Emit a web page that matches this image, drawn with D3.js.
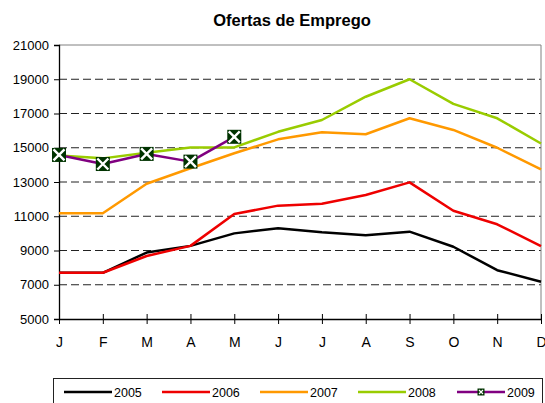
<!DOCTYPE html>
<html>
<head>
<meta charset="utf-8">
<script src="https://cdn.jsdelivr.net/npm/d3@7"></script>
<style>
  body { margin: 0; background: #fff; }
  svg { display: block; font-family: "Liberation Sans", Arial, sans-serif; }
</style>
</head>
<body>
<div id="chart"></div>
<script>
const months = ["J", "F", "M", "A", "M", "J", "J", "A", "S", "O", "N", "D"];
const years = ["2005", "2006", "2007", "2008", "2009"];
const colors = ["#000000", "#ee0000", "#ff9900", "#99cc00", "#800080"];
const yTicks = [5000, 7000, 9000, 11000, 13000, 15000, 17000, 19000, 21000];

const v2005 = [7700, 7700, 8880, 9270, 10000, 10300, 10060, 9890, 10100, 9220, 7850, 7180];
const v2006 = [7700, 7700, 8680, 9270, 11130, 11620, 11730, 12240, 12980, 11320, 10530, 9260];
const v2007 = [11180, 11180, 12900, 13800, 14680, 15490, 15900, 15790, 16720, 16040, 15000, 13740];
const v2008 = [14550, 14380, 14710, 15020, 15020, 15930, 16620, 17980, 19000, 17560, 16720, 15250];
const v2009 = [14580, 14050, 14640, 14190, 15640];

function createChart() {
    var width = 545;
    var height = 403;
    var margin = ({top: 45, right: 4, bottom: 84, left: 59});
    var font = "'Liberation Sans', Arial, sans-serif";

    var series = [v2005, v2006, v2007, v2008, v2009];

    var x = d3.scaleLinear()
        .domain([0, 11])
        .range([margin.left, width - margin.right]);

    var y = d3.scaleLinear()
        .domain([5000, 21000])
        .range([height - margin.bottom, margin.top]);

    var svg = d3.select("#chart")
        .append("svg")
            .attr("viewBox", [0, 0, width, height])
            .attr("width", width)
            .attr("height", height);

    svg.append("text")
        .attr("x", 292)
        .attr("y", 26)
        .attr("text-anchor", "middle")
        .attr("font-size", 16.5)
        .attr("font-weight", "bold")
        .text("Ofertas de Emprego");

    // dashed grid
    svg.append("g")
        .selectAll("line")
        .data(yTicks.filter(d => d > 5000 && d < 21000))
        .join("line")
            .attr("x1", x(0))
            .attr("x2", x(11))
            .attr("y1", d => y(d))
            .attr("y2", d => y(d))
            .attr("stroke", "#222")
            .attr("stroke-width", 1)
            .attr("stroke-dasharray", "8,4");

    // plot border (top and right)
    svg.append("path")
        .attr("d", `M${x(0)},${y(21000)}H${x(11)}V${y(5000)}`)
        .attr("fill", "none")
        .attr("stroke", "#808080")
        .attr("stroke-width", 1);

    var yAxis = g => g
        .attr("transform", `translate(${margin.left},0)`)
        .call(d3.axisLeft(y).tickValues(yTicks).tickFormat(d3.format("d")).tickSize(5).tickPadding(5))
        .call(g => g.select(".domain").attr("stroke", "#000").attr("stroke-width", 1.3))
        .call(g => g.selectAll(".tick line").attr("stroke", "#000"))
        .call(g => g.selectAll(".tick text")
            .attr("font-size", 13)
            .attr("font-family", font)
            .attr("fill", "#000"));

    var xAxis = g => g
        .attr("transform", `translate(0,${height - margin.bottom})`)
        .call(d3.axisBottom(x).tickValues(d3.range(12)).tickFormat(i => months[i]).tickSize(5).tickSizeOuter(0).tickPadding(13))
        .call(g => g.select(".domain").attr("stroke", "#000").attr("stroke-width", 1.3))
        .call(g => g.selectAll(".tick line").attr("y1", -5).attr("stroke", "#000"))
        .call(g => g.selectAll(".tick text")
            .attr("font-size", 14)
            .attr("font-family", font)
            .attr("fill", "#000"));

    svg.append("g").call(xAxis);
    svg.append("g").call(yAxis);

    var line = d3.line()
        .x((d, i) => x(i))
        .y(d => y(d));

    svg.append("g")
        .selectAll("path")
        .data(series)
        .join("path")
            .attr("fill", "none")
            .attr("stroke", (d, i) => colors[i])
            .attr("stroke-width", 2.5)
            .attr("stroke-linejoin", "round")
            .attr("d", line);

    function marker(g, cx, cy, s, w) {
        g.append("rect")
            .attr("x", cx - s / 2)
            .attr("y", cy - s / 2)
            .attr("width", s)
            .attr("height", s)
            .attr("fill", "#003300");
        var k = s / 2 - 1.5;
        g.append("path")
            .attr("d", `M${cx - k},${cy - k}L${cx + k},${cy + k}M${cx - k},${cy + k}L${cx + k},${cy - k}`)
            .attr("stroke", "#fff")
            .attr("stroke-width", w);
    }

    var mk = svg.append("g");
    v2009.forEach((d, i) => marker(mk, x(i), y(d), 14, 2.4));

    // legend
    var legend = svg.append("g");
    legend.append("rect")
        .attr("x", 53.5)
        .attr("y", 378.5)
        .attr("width", 489)
        .attr("height", 40)
        .attr("fill", "#fff")
        .attr("stroke", "#222");

    var lx = [64, 162, 260, 358, 457];
    years.forEach((yr, i) => {
        legend.append("line")
            .attr("x1", lx[i])
            .attr("x2", lx[i] + 48)
            .attr("y1", 392)
            .attr("y2", 392)
            .attr("stroke", colors[i])
            .attr("stroke-width", 2.5);
        legend.append("text")
            .attr("x", lx[i] + 50)
            .attr("y", 396.5)
            .attr("font-size", 12.5)
            .text(yr);
    });
    marker(legend, lx[4] + 24, 392, 7, 1.2);
}

createChart();
</script>
</body>
</html>
